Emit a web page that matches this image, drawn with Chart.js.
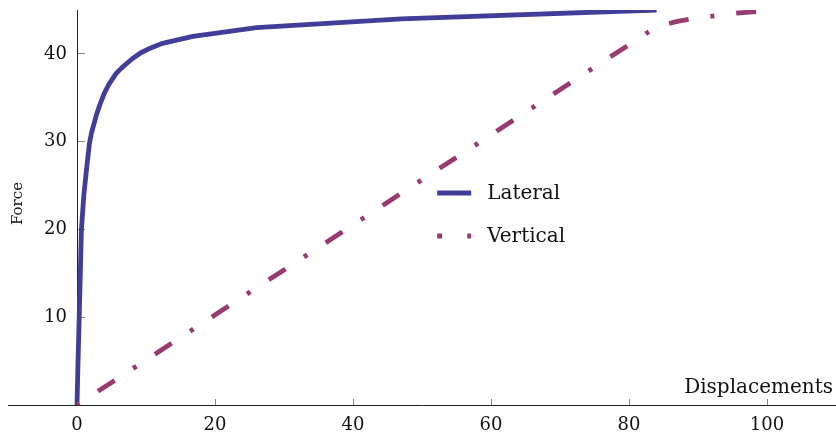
<!DOCTYPE html>
<html>
<head>
<meta charset="utf-8">
<script src="https://cdn.jsdelivr.net/npm/chart.js@4/dist/chart.umd.min.js"></script>
<style>
  html, body { margin: 0; padding: 0; background: #ffffff; }
  #wrap { width: 836px; height: 434px; }
  canvas { display: block; }
</style>
</head>
<body>
<div id="wrap"><canvas id="chart" width="836" height="434"></canvas></div>
<script>
// Load–displacement curves
const lateralX = [0, 0.15, 0.32, 0.48, 0.64, 1.0, 1.4, 1.8, 2.1, 2.8, 3.4, 4.0, 4.6, 5.7, 6.4, 7.2, 8.0, 9.2, 10.6, 12.4, 16.8, 26, 47, 84];
const lateralY = [0, 5, 10, 15, 20, 24, 27, 29.8, 31.0, 33.0, 34.4, 35.6, 36.5, 37.8, 38.35, 38.9, 39.45, 40.1, 40.65, 41.2, 42, 43, 44, 45];
const verticalX = [0, 84, 87, 90, 95, 101];
const verticalY = [0, 43.1, 43.7, 44.1, 44.6, 45];

const xTicks = [0, 20, 40, 60, 80, 100];
const yTicks = [10, 20, 30, 40];
const seriesNames = ['Lateral', 'Vertical'];
const xTitle = 'Displacements';
const yTitle = 'Force';

const lateralColor = '#403e98';
const verticalColor = '#993b70';
const serif = "'DejaVu Serif', 'Liberation Serif', serif";

const toPoints = (xs, ys) => xs.map((x, i) => ({ x: x, y: ys[i] }));

// Axes cross at the origin, so they should not reserve extra room for labels
const noScalePadding = (scale) => {
  scale.paddingTop = 0;
  scale.paddingBottom = 0;
  scale.paddingLeft = 0;
  scale.paddingRight = 0;
};

// Move the y tick labels a little away from the axis line
const yLabelGap = {
  id: 'yLabelGap',
  beforeDraw(chart) {
    const ys = chart.scales.y;
    const axisX = chart.scales.x.getPixelForValue(0);
    ys.getLabelItems(chart.chartArea).forEach(item => {
      item.options.translation[0] = axisX - 10;
    });
  }
};

// Axis titles and the in-plot legend
const decorations = {
  id: 'decorations',
  afterDraw(chart) {
    const ctx = chart.ctx;
    const area = chart.chartArea;
    const xs = chart.scales.x;
    const ys = chart.scales.y;
    const axisY = ys.getPixelForValue(0);
    ctx.save();
    ctx.fillStyle = '#111';

    // x-axis title, above the axis line at the right end
    ctx.font = '20px ' + serif;
    ctx.textAlign = 'right';
    ctx.textBaseline = 'alphabetic';
    ctx.fillText(xTitle, area.right - 3, axisY - 12);

    // y-axis title, rotated
    ctx.save();
    ctx.font = '15px ' + serif;
    ctx.translate(area.left + 10, (area.top + area.bottom) / 2 - 4);
    ctx.rotate(-Math.PI / 2);
    ctx.textAlign = 'center';
    ctx.textBaseline = 'middle';
    ctx.fillText(yTitle, 0, 0);
    ctx.restore();

    // legend
    const ds = chart.data.datasets;
    const lx0 = xs.getPixelForValue(52.2);
    const lx1 = lx0 + 34;
    const rows = [193, 236];
    ds.forEach((d, i) => {
      const y = rows[i];
      ctx.save();
      ctx.strokeStyle = d.borderColor;
      ctx.lineWidth = d.borderWidth;
      ctx.lineCap = 'butt';
      if (i === 1) ctx.setLineDash([5, 25]);
      ctx.beginPath();
      ctx.moveTo(lx0, y);
      ctx.lineTo(lx1, y);
      ctx.stroke();
      ctx.restore();
      ctx.font = '20px ' + serif;
      ctx.textAlign = 'left';
      ctx.textBaseline = 'middle';
      ctx.fillStyle = '#111';
      ctx.fillText(d.label, lx1 + 16, y + 1);
    });
    ctx.restore();
  }
};

new Chart(document.getElementById('chart'), {
  type: 'line',
  data: {
    datasets: [
      {
        label: seriesNames[0],
        data: toPoints(lateralX, lateralY),
        borderColor: lateralColor,
        backgroundColor: lateralColor,
        borderWidth: 4.8,
        pointRadius: 0,
        tension: 0,
        fill: false,
        borderJoinStyle: 'round',
        borderCapStyle: 'butt',
        order: 1
      },
      {
        label: seriesNames[1],
        data: toPoints(verticalX, verticalY),
        borderColor: verticalColor,
        backgroundColor: verticalColor,
        borderWidth: 4.8,
        pointRadius: 0,
        tension: 0,
        fill: false,
        borderDash: [20, 22, 4, 22],
        borderDashOffset: 43,
        borderCapStyle: 'butt',
        order: 0
      }
    ]
  },
  options: {
    responsive: false,
    animation: false,
    devicePixelRatio: 1,
    layout: { padding: { left: 8, right: 0, top: 10, bottom: 29 } },
    plugins: {
      legend: { display: false },
      tooltip: { enabled: false },
      title: { display: false }
    },
    scales: {
      x: {
        type: 'linear',
        min: -10,
        max: 110,
        position: { y: 0 },
        afterBuildTicks: (scale) => { scale.ticks = xTicks.map(v => ({ value: v })); },
        afterFit: noScalePadding,
        grid: {
          display: true,
          drawOnChartArea: false,
          drawTicks: true,
          tickLength: -7,
          tickColor: '#888888',
          tickWidth: 1
        },
        border: { display: true, color: '#222222', width: 1 },
        ticks: {
          color: '#111',
          font: { family: serif, size: 18 },
          padding: 17,
          maxRotation: 0,
          autoSkip: false
        }
      },
      y: {
        type: 'linear',
        min: 0,
        max: 45,
        position: { x: 0 },
        afterBuildTicks: (scale) => { scale.ticks = yTicks.map(v => ({ value: v })); },
        afterFit: noScalePadding,
        grid: {
          display: true,
          drawOnChartArea: false,
          drawTicks: true,
          tickLength: -8,
          tickColor: '#888888',
          tickWidth: 1
        },
        border: { display: true, color: '#222222', width: 1 },
        ticks: {
          color: '#111',
          font: { family: serif, size: 18 },
          padding: 0,
          autoSkip: false
        }
      }
    }
  },
  plugins: [yLabelGap, decorations]
});
</script>
</body>
</html>
